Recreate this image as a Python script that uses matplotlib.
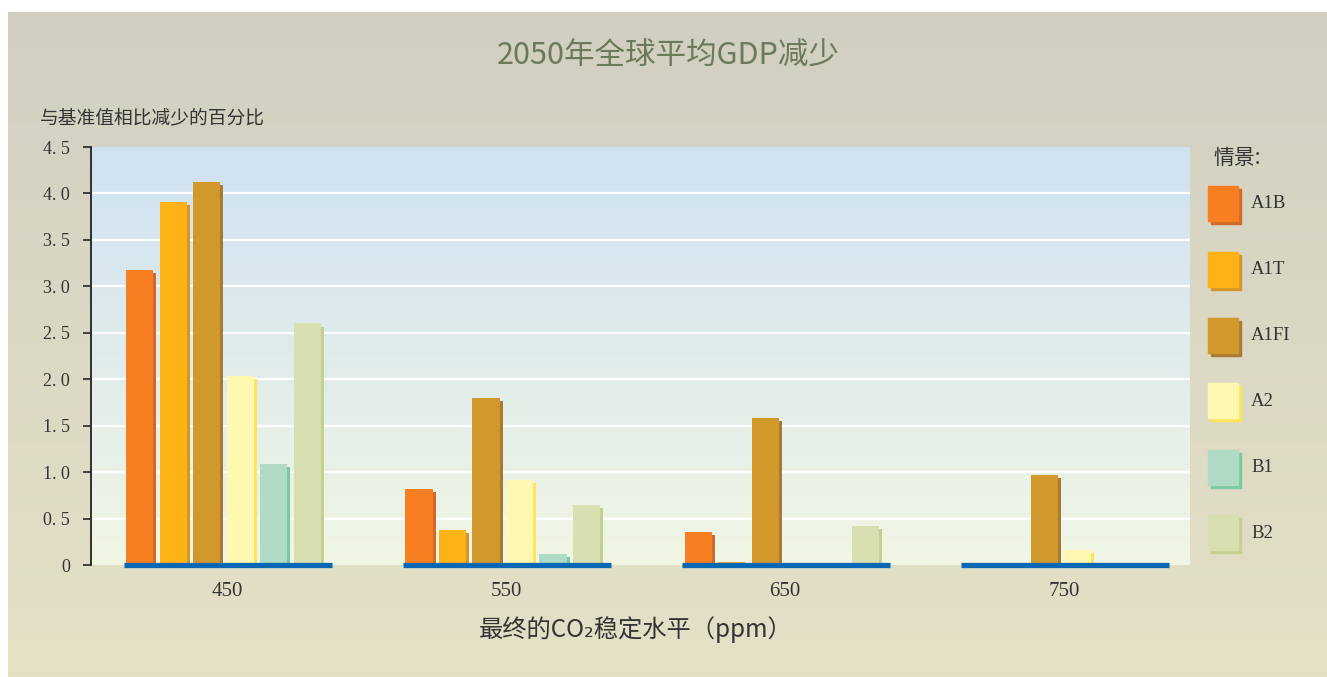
import numpy as np
import matplotlib
matplotlib.use("Agg")
import matplotlib.pyplot as plt
import matplotlib.patheffects as pe
from matplotlib.colors import LinearSegmentedColormap
from matplotlib.patches import Rectangle

plt.rcParams['font.family'] = ['Noto Sans CJK SC', 'DejaVu Sans']

# data
groups = ["450", "550", "650", "750"]
scenarios = ["A1B", "A1T", "A1FI", "A2", "B1", "B2"]
a1b = [3.18, 0.82, 0.36, 0.0]
a1t = [3.91, 0.38, 0.03, 0.0]
a1fi = [4.12, 1.80, 1.58, 0.97]
a2 = [2.04, 0.92, 0.0, 0.165]
b1 = [1.09, 0.12, 0.0, 0.0]
b2 = [2.60, 0.65, 0.42, 0.0]
values = [a1b, a1t, a1fi, a2, b1, b2]
yticks = [0, 0.5, 1.0, 1.5, 2.0, 2.5, 3.0, 3.5, 4.0, 4.5]
ytick_labels = ["0", "0. 5", "1. 0", "1. 5", "2. 0", "2. 5", "3. 0", "3. 5", "4. 0", "4. 5"]

face = ["#f77f22", "#fdb216", "#d1982b", "#fef8b0", "#afdbc5", "#d8e0b2"]
shade = ["#d06a2a", "#d4952a", "#a87a35", "#fde55a", "#7ac8a0", "#c5d08e"]

W, H = 1327, 677
fig = plt.figure(figsize=(W / 100, H / 100), dpi=100)
fig.patch.set_facecolor("white")

# panel background
bg = fig.add_axes([8 / W, 0, 1 - 8 / W, 1 - 12 / H], zorder=-10)
bg_cmap = LinearSegmentedColormap.from_list("bg", ["#e5e1c7", "#d1cfc1"])
bg.imshow(np.linspace(0, 1, 256).reshape(-1, 1), cmap=bg_cmap, origin="lower",
          aspect="auto", extent=[0, 1, 0, 1])
bg.set_axis_off()

# main axes
ax = fig.add_axes([91 / W, (H - 565) / H, (1190 - 91) / W, (565 - 147) / H])
ax.set_facecolor("none")
plot_cmap = LinearSegmentedColormap.from_list("pl", ["#f1f6e4", "#cfe2f3"])
ax.imshow(np.linspace(0, 1, 256).reshape(-1, 1), cmap=plot_cmap, origin="lower",
          aspect="auto", extent=[0, 1, 0, 1], transform=ax.transAxes, zorder=0)

x = np.arange(len(groups))
step = 0.12
width = 0.097
for k in range(len(scenarios)):
    pos = x + (k - 2.5) * step - 0.012
    ax.bar(pos, values[k], width=width, color=face[k], zorder=3,
           path_effects=[pe.SimplePatchShadow(offset=(2.2, -2.2), shadow_rgbFace=shade[k], alpha=1.0),
                         pe.Normal()])

for gx in x:
    ax.plot([gx - 0.37, gx + 0.375], [0, 0], color="#0868b4", lw=3.8,
            solid_capstyle="butt", zorder=5, clip_on=False)

for yv in yticks[1:-1]:
    ax.axhline(yv, color="white", lw=1.6, zorder=1)

ax.set_xlim(-0.487, 3.45)
ax.set_ylim(0, 4.5)
ax.set_yticks(yticks)
ax.set_yticklabels(ytick_labels, family=["Liberation Serif", "DejaVu Serif"], fontsize=13, color="#333333")
ax.set_xticks(x)
ax.set_xticklabels(groups, family=["Liberation Serif", "DejaVu Serif"], fontsize=15, color="#333333")
ax.tick_params(axis="y", direction="out", length=6, width=1.3, color="#333333", pad=9)
ax.tick_params(axis="x", length=0, pad=12)
for s in ["top", "right", "bottom"]:
    ax.spines[s].set_visible(False)
ax.spines["left"].set_color("#222222")
ax.spines["left"].set_linewidth(1.3)

fig.text(668 / W, 1 - 55 / H, "2050年全球平均GDP减少", ha="center", va="center",
         fontsize=22, color="#6b7a5a")
fig.text(40 / W, 1 - 118 / H, "与基准值相比减少的百分比", ha="left", va="center",
         fontsize=13.5, color="#333333")
fig.text(636 / W, 1 - 630 / H, "最终的CO₂稳定水平（ppm）", ha="center", va="center",
         fontsize=17.5, color="#333333")

# legend drawn in a pixel-coordinate axes
lax = fig.add_axes([1190 / W, 0, 137 / W, 1], zorder=2)
lax.set_xlim(1190, 1327)
lax.set_ylim(H, 0)
lax.set_axis_off()
lax.text(1213, 158, "情景:", ha="left", va="center", fontsize=15, color="#333333")
legend_y = [204, 270, 336, 401, 468, 533]
for k, lab in enumerate(scenarios):
    yc = legend_y[k]
    lax.add_patch(Rectangle((1211, yc - 15), 30, 35, color=shade[k]))
    lax.add_patch(Rectangle((1208, yc - 18), 30, 35, color=face[k]))
    lax.text(1251, yc, lab, ha="left", va="center", fontsize=13.5,
             family=["Liberation Serif", "DejaVu Serif"], color="#333333")

fig.savefig("out.png", dpi=100)
